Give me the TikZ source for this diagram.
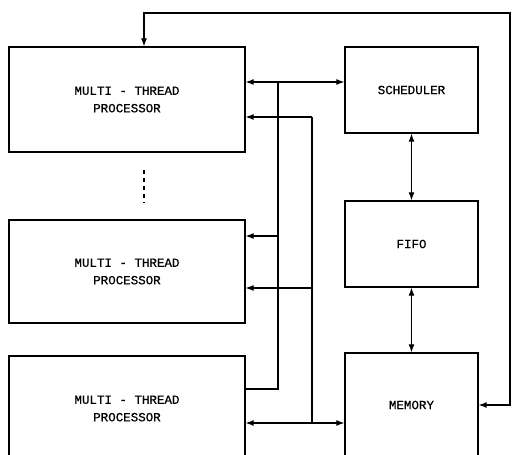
\documentclass[tikz,border=0pt]{standalone}
\usepackage{fontspec}
\setmonofont[FakeBold=0.5]{Liberation Mono}
\usetikzlibrary{arrows.meta}

\begin{document}
\begin{tikzpicture}[x=1pt, y=-1pt,
    blk/.style={draw, line width=1.3pt, inner sep=0pt, align=center,
      font=\ttfamily\fontsize{12.5}{17.5}\selectfont},
    wire/.style={line width=1.2pt},
    arr/.style={wire, -{Latex[length=8pt,width=6pt]}},
    darr/.style={wire, {Latex[length=8pt,width=6pt]}-{Latex[length=8pt,width=6pt]}}]
    \useasboundingbox (0,0) rectangle (512,455);
    \clip (0,0) rectangle (512,455);
    % processors
    \node[blk, minimum width=236pt, minimum height=105pt] (proc1) at (127,99.5) {MULTI - THREAD\\PROCESSOR};
    \node[blk, minimum width=236pt, minimum height=103pt] (proc2) at (127,271.5) {MULTI - THREAD\\PROCESSOR};
    \node[blk, minimum width=236pt, minimum height=105pt] (proc3) at (127,408.5) {MULTI - THREAD\\PROCESSOR};
    \draw[wire, dash pattern=on 4pt off 4pt] (144,170) -- (144,203);
    % right column
    \node[blk, minimum width=133pt, minimum height=86pt] (sched) at (411.5,90) {SCHEDULER};
    \node[blk, minimum width=133pt, minimum height=86pt] (fifo) at (411.5,244) {FIFO};
    \node[blk, minimum width=133pt, minimum height=104pt] (memory) at (411.5,405) {MEMORY};
    \draw[darr] (sched.south) -- (fifo.north);
    \draw[darr] (fifo.south) -- (memory.north);
    % feedback loop
    \coordinate (fb1) at (144,13);
    \coordinate (fb2) at (510,13);
    \draw[darr] (fb1 |- proc1.north) -- (fb1) -- (fb2) |- (memory.east);
    % bus lines
    \coordinate (busA) at (278,82);
    \coordinate (tapA) at (278,236);
    \coordinate (busAend) at (278,389);
    \coordinate (busB) at (312,117);
    \coordinate (tapB) at (312,288);
    \coordinate (busBend) at (312,423);
    \draw[darr] (proc1.east |- busA) -- (sched.west |- busA);
    \draw[wire] (busA) -- (busAend) -- (busAend -| proc3.east);
    \draw[arr] (tapA) -- (tapA -| proc2.east);
    \draw[arr] (busB) -- (busB -| proc1.east);
    \draw[wire] (busB) -- (busBend);
    \draw[arr] (tapB) -- (tapB -| proc2.east);
    \draw[darr] (proc3.east |- busBend) -- (memory.west |- busBend);
\end{tikzpicture}
\end{document}
